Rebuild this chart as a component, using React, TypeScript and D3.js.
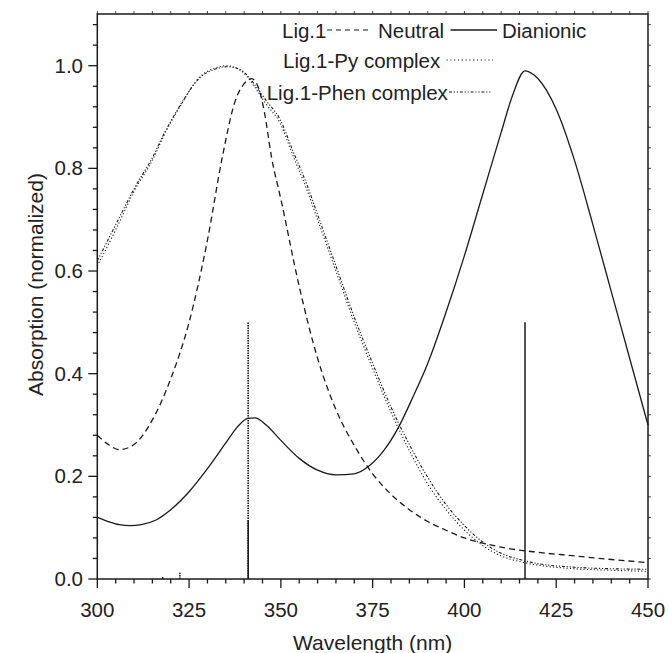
import React from "react";
import * as d3 from "d3";

// ---- data ----
const neutralX = [300,303,306,310,315,320,325,330,334,337.5,340,342,344,345.5,347.5,350,355,360,365,370,375,380,385,390,395,400,405,410,420,430,440,450];
const neutralY = [0.28,0.262,0.252,0.262,0.31,0.39,0.50,0.66,0.82,0.93,0.965,0.975,0.955,0.91,0.82,0.74,0.57,0.43,0.33,0.26,0.205,0.165,0.135,0.112,0.095,0.08,0.07,0.062,0.052,0.045,0.038,0.032];

const complexX = [300,305,310,315.3,318,322.5,328,332,335.3,338,340,343.4,346,349.8,353.4,357,360,365,370,375,380,385,390,395,400,405,410,415,420,430,440,450];
const pyY = [0.61,0.68,0.755,0.82,0.862,0.92,0.979,0.995,1.0,0.995,0.985,0.953,0.925,0.888,0.823,0.76,0.70,0.60,0.50,0.41,0.325,0.25,0.185,0.135,0.095,0.065,0.045,0.034,0.027,0.02,0.017,0.015];
const phenY = [0.62,0.69,0.76,0.825,0.865,0.922,0.977,0.993,0.998,0.995,0.987,0.958,0.932,0.895,0.832,0.77,0.71,0.61,0.51,0.42,0.335,0.262,0.198,0.145,0.104,0.072,0.05,0.038,0.03,0.023,0.02,0.019];

const dianionicX = [300,303,306,309,312,316,320,325,330,335,338,341,343,346,350,355,360,365,370,374,378,382,386,390,395,400,405,410,413,416.5,420,425,430,435,440,445,450];
const dianionicY = [0.12,0.112,0.106,0.104,0.106,0.115,0.135,0.17,0.215,0.265,0.295,0.313,0.314,0.3,0.27,0.235,0.212,0.203,0.205,0.22,0.25,0.295,0.355,0.42,0.52,0.63,0.75,0.87,0.94,0.99,0.975,0.915,0.815,0.69,0.56,0.43,0.30];

// stick spectra (calculated transitions)
const sticksSolidX = [341.1, 416.5, 317.8];
const sticksSolidY = [0.115, 0.50, 0.004];
const sticksDottedX = [341.1, 322.5];
const sticksDottedY = [0.50, 0.012];

const xTicks = [300, 325, 350, 375, 400, 425, 450];
const yTicks = [0.0, 0.2, 0.4, 0.6, 0.8, 1.0];

const W = 669, H = 653;
const left = 97.3, right = 648, top = 14, bottom = 579;
const FONT = "'Liberation Sans', Arial, sans-serif";

export default function App() {
  const x = d3.scaleLinear().domain([300, 450]).range([left, right]);
  const y = d3.scaleLinear().domain([0, 1.1]).range([bottom, bottom - 1.1 * 513.3]);

  const line = (xs: number[], ys: number[]) =>
    d3.line<number>().x((d, i) => x(xs[i])).y((d) => y(d)).curve(d3.curveMonotoneX)(ys) || "";

  const minorX = d3.range(300, 450.01, 5);
  const minorY = d3.range(0, 1.1001, 0.04);

  const stroke = "#1a1a1a";

  return (
    <svg width={W} height={H} style={{ position: "absolute", left: 0, top: 0, background: "#fff" }} fontFamily={FONT}>
      <rect x={0} y={0} width={W} height={H} fill="#fff" />
      {/* curves */}
      <path d={line(complexX, pyY)} fill="none" stroke={stroke} strokeWidth={1.1} strokeDasharray="1.2,2.2" />
      <path d={line(complexX, phenY)} fill="none" stroke={stroke} strokeWidth={1.1} strokeDasharray="3,1.8,1.2,1.8,1.2,1.8" />
      <path d={line(neutralX, neutralY)} fill="none" stroke={stroke} strokeWidth={1.3} strokeDasharray="6,4" />
      <path d={line(dianionicX, dianionicY)} fill="none" stroke={stroke} strokeWidth={1.3} />
      {/* sticks */}
      {sticksDottedX.map((v, i) => (
        <line key={"sd" + i} x1={x(v)} x2={x(v)} y1={y(0)} y2={y(sticksDottedY[i])} stroke={stroke} strokeWidth={1.6} strokeDasharray="1.5,1" />
      ))}
      {sticksSolidX.map((v, i) => (
        <line key={"ss" + i} x1={x(v)} x2={x(v)} y1={y(0)} y2={y(sticksSolidY[i])} stroke={stroke} strokeWidth={1.5} />
      ))}
      {/* frame */}
      <rect x={left} y={top} width={right - left} height={bottom - top} fill="none" stroke={stroke} strokeWidth={1.5} />
      {/* bottom ticks */}
      {minorX.map((v) => (
        <line key={"bx" + v} x1={x(v)} x2={x(v)} y1={bottom} y2={bottom + (v % 25 === 0 ? 9 : 4.5)} stroke={stroke} strokeWidth={1.3} />
      ))}
      {/* top ticks */}
      {minorX.map((v) => (
        <line key={"tx" + v} x1={x(v)} x2={x(v)} y1={top} y2={top - 3} stroke={stroke} strokeWidth={0.8} />
      ))}
      {/* left ticks */}
      {minorY.map((v, i) => (
        <line key={"ly" + i} x1={left} x2={left - (i % 5 === 0 ? 9 : 4.5)} y1={y(v)} y2={y(v)} stroke={stroke} strokeWidth={1.3} />
      ))}
      {/* right ticks */}
      {minorY.map((v, i) => (
        <line key={"ry" + i} x1={right} x2={right + 3} y1={y(v)} y2={y(v)} stroke={stroke} strokeWidth={0.8} />
      ))}
      {/* tick labels */}
      {xTicks.map((v) => (
        <text key={"xl" + v} x={x(v)} y={617} textAnchor="middle" fontSize={20.5} fill="#222">{v}</text>
      ))}
      {yTicks.map((v) => (
        <text key={"yl" + v} x={83} y={y(v) + 7} textAnchor="end" fontSize={20.5} fill="#222">{v.toFixed(1)}</text>
      ))}
      {/* axis titles */}
      <text x={(left + right) / 2} y={650} textAnchor="middle" fontSize={21} fill="#222">Wavelength (nm)</text>
      <text transform={`translate(43,${(top + bottom) / 2 - 12}) rotate(-90)`} textAnchor="middle" fontSize={21} fill="#222">Absorption (normalized)</text>
      {/* legend */}
      <text x={282} y={38} fontSize={20.5} fill="#222">Lig.1</text>
      <line x1={327} x2={372} y1={30} y2={30} stroke={stroke} strokeWidth={1.2} strokeDasharray="5,4" />
      <text x={378} y={38} fontSize={20.5} fill="#222">Neutral</text>
      <line x1={450.5} x2={497} y1={30} y2={30} stroke={stroke} strokeWidth={1.3} />
      <text x={502} y={38} fontSize={20.5} fill="#222">Dianionic</text>
      <text x={283} y={68} fontSize={20.5} fill="#222">Lig.1-Py complex</text>
      <line x1={446.5} x2={493} y1={60} y2={60} stroke={stroke} strokeWidth={1.1} strokeDasharray="1.2,2.6" />
      <text x={266.7} y={100} fontSize={20.5} fill="#222">Lig.1-Phen complex</text>
      <line x1={449} x2={492} y1={92} y2={92} stroke={stroke} strokeWidth={1.1} strokeDasharray="3,1.8,1.2,1.8,1.2,1.8" />
    </svg>
  );
}
